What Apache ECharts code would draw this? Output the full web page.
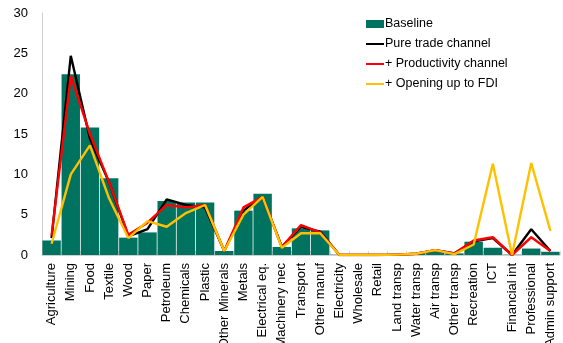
<!DOCTYPE html>
<html><head><meta charset="utf-8">
<script src="https://cdn.jsdelivr.net/npm/echarts@6/dist/echarts.min.js"></script>
<style>html,body{margin:0;padding:0;background:#fff}#c{width:563px;height:343px}</style>
</head><body><div id="c"></div>
<script>
var categories = ["Agriculture","Mining","Food","Textile","Wood","Paper","Petroleum","Chemicals","Plastic","Other Minerals","Metals","Electrical eq.","Machinery nec","Transport","Other manuf","Electricity","Wholesale","Retail","Land transp","Water transp","Air transp","Other transp","Recreation","ICT","Financial int","Professional","Admin support"];
var baseline = [1.8,22.4,15.8,9.5,2.15,2.8,6.7,6.5,6.5,0.5,5.5,7.6,1.0,3.3,3.05,0.05,0.05,0.1,0.15,0.2,0.4,0.2,1.65,0.9,0.05,0.8,0.4];
var pureTrade = [2.1,24.7,14.4,9.0,2.3,3.2,6.9,6.2,5.9,0.5,5.5,7.2,1.0,3.5,2.9,0.0,0.0,0.0,0.05,0.15,0.6,0.2,1.7,2.1,0.0,3.2,0.5];
var productivity = [2.4,22.2,15.0,9.0,2.5,4.0,6.2,5.9,6.2,0.5,5.9,7.2,1.0,3.7,2.8,0.0,0.0,0.0,0.05,0.15,0.6,0.2,1.8,2.2,0.0,2.2,0.5];
var fdi = [1.4,10.0,13.6,7.0,2.1,4.2,3.5,5.2,6.2,0.5,5.0,7.2,0.9,2.7,2.7,0.0,0.0,0.0,0.05,0.15,0.6,0.1,1.3,11.3,0.0,11.4,3.0];
var yTicks = [0,5,10,15,20,25,30];

var lineIcon = 'path://M0,0 M18,8 M0,3 L18,3 L18,5 L0,5 Z';
var chart = echarts.init(document.getElementById('c'));
chart.setOption({
  animation:false,
  textStyle:{fontFamily:'Liberation Sans, Arial, sans-serif'},
  grid:{left:42,right:3,top:13,bottom:88,containLabel:false,outerBoundsMode:'none'},
  legend:{
    orient:'vertical', left:361, top:12, itemWidth:18, itemHeight:8, itemGap:6,
    textStyle:{fontSize:12.5,color:'#000',lineHeight:14,padding:[0,0,0,-4]},
    data:[{name:'Baseline',icon:'rect'},
          {name:'Pure trade channel',icon:lineIcon},
          {name:'+ Productivity channel',icon:lineIcon},
          {name:'+ Opening up to FDI',icon:lineIcon}]
  },
  xAxis:{
    type:'category', data:categories,
    axisLine:{lineStyle:{color:'#d0d0d0'}},
    axisTick:{show:true,inside:true,length:4,lineStyle:{color:'#d9d9d9'}},
    axisLabel:{rotate:90,fontSize:13,color:'#000',margin:8,interval:0}
  },
  yAxis:{
    type:'value', min:yTicks[0], max:yTicks[yTicks.length-1], interval:5,
    splitLine:{show:false},
    axisLine:{show:true,lineStyle:{color:'#d0d0d0'}},
    axisTick:{show:false},
    axisLabel:{fontSize:13,color:'#000',margin:14}
  },
  series:[
    {name:'Baseline',type:'bar',data:baseline,barCategoryGap:'4%',itemStyle:{color:'#007360'}},
    {name:'Pure trade channel',type:'line',data:pureTrade,symbol:'none',lineStyle:{color:'#000',width:2.4},itemStyle:{color:'#000'}},
    {name:'+ Productivity channel',type:'line',data:productivity,symbol:'none',lineStyle:{color:'#ff0000',width:2.4},itemStyle:{color:'#ff0000'}},
    {name:'+ Opening up to FDI',type:'line',data:fdi,symbol:'none',lineStyle:{color:'#ffc000',width:2.4},itemStyle:{color:'#ffc000'}}
  ]
});
</script></body></html>
